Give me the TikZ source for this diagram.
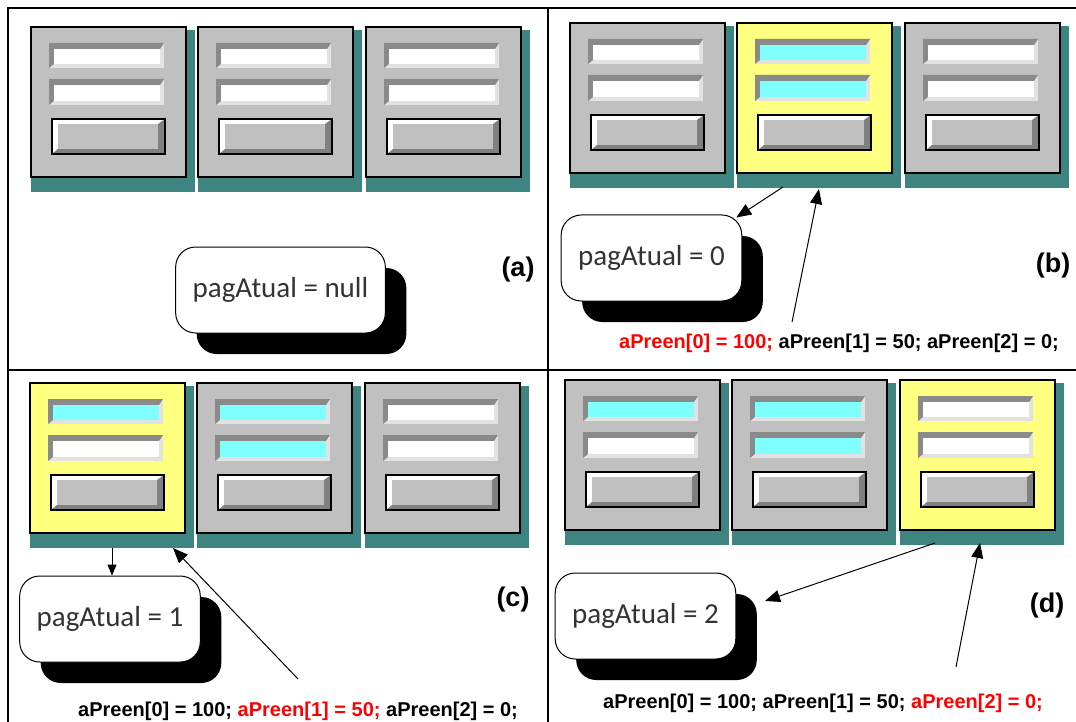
\documentclass[tikz,border=0pt]{standalone}
\usepackage{fontspec}
\usepackage{tikz}
\usetikzlibrary{arrows.meta,shadows}
\newfontfamily\pagfont{Carlito}
\newfontfamily\codefont{Liberation Sans}
\definecolor{winGray}{HTML}{C0C0C0}
\definecolor{winYellow}{HTML}{FFFF80}
\definecolor{winShadow}{RGB}{62,132,128}
\definecolor{fieldCyan}{HTML}{80FFFF}
\definecolor{fieldDark}{HTML}{8A8A8A}
\definecolor{fieldLight}{HTML}{E2E2E2}
\definecolor{btnDark}{HTML}{808080}

\begin{document}
\begin{tikzpicture}[x=1pt,y=-1pt,
  window/.style={draw,line width=1.5pt,minimum width=155pt,minimum height=150pt,inner sep=0pt},
  state box/.style={draw,line width=1pt,fill=white,rounded corners=20pt,minimum height=86pt,
    inner xsep=17pt,font=\pagfont\fontsize{29}{34}\selectfont,text=black!80,
    drop shadow={shadow xshift=21pt,shadow yshift=-21pt,fill=black,opacity=1}},
  code/.style={anchor=west,inner sep=0pt,font=\codefont\bfseries\fontsize{20}{23}\selectfont},
  panel label/.style={font=\codefont\bfseries\fontsize{27}{30}\selectfont},
  ptr/.style={-{Triangle[length=15pt,width=12pt]},line width=1pt},
  small ptr/.style={-{Triangle[length=11pt,width=9pt]},line width=1pt}]

  \useasboundingbox (0,0) rectangle (1076,722);

  % panel frame
  \draw[line width=1.5pt] (8,730) -- (8,8) -- (1080,8);
  \draw[line width=1.5pt] (548,8) -- (548,730);
  \draw[line width=1.5pt] (8,370) -- (1080,370);

  % windows: name / left / top / background / field 1 / field 2
  \foreach \n/\x/\y/\bg/\fa/\fb in {
    a1/31/27/winGray/white/white, a2/198/27/winGray/white/white, a3/366/27/winGray/white/white,
    b1/570/23/winGray/white/white, b2/737/23/winYellow/fieldCyan/fieldCyan, b3/905/23/winGray/white/white,
    c1/30/383/winYellow/fieldCyan/white, c2/197/383/winGray/fieldCyan/fieldCyan, c3/365/383/winGray/white/white,
    d1/565/380/winGray/fieldCyan/white, d2/732/380/winGray/fieldCyan/fieldCyan, d3/900/380/winYellow/white/white}
  {
    \fill[winShadow] (\x,\y+3) rectangle (\x+164,\y+165);
    \node[window,fill=\bg] (\n) at (\x+77.5,\y+75) {};
    % field 1
    \fill[fieldLight] (\x+18,\y+16) rectangle (\x+133,\y+41);
    \fill[fieldDark] (\x+18,\y+16) -- (\x+133,\y+16) -- (\x+129,\y+22) -- (\x+23,\y+22)
      -- (\x+23,\y+37) -- (\x+18,\y+41) -- cycle;
    \fill[\fa] (\x+23,\y+22) rectangle (\x+129,\y+37);
    % field 2
    \fill[fieldLight] (\x+18,\y+52) rectangle (\x+133,\y+78);
    \fill[fieldDark] (\x+18,\y+52) -- (\x+133,\y+52) -- (\x+129,\y+58) -- (\x+23,\y+58)
      -- (\x+23,\y+74) -- (\x+18,\y+78) -- cycle;
    \fill[\fb] (\x+23,\y+58) rectangle (\x+129,\y+74);
    % button
    \fill[white] (\x+21,\y+92) rectangle (\x+134,\y+127);
    \fill[btnDark] (\x+134,\y+92) -- (\x+134,\y+127) -- (\x+21,\y+127) -- (\x+27,\y+122)
      -- (\x+127,\y+122) -- (\x+127,\y+97) -- cycle;
    \fill[winGray] (\x+27,\y+97) rectangle (\x+127,\y+122);
    \draw[line width=1.5pt] (\x+21,\y+92) rectangle (\x+134,\y+127);
  }

  % state boxes
  \node[state box] (pa) at (280.5,290) {pagAtual = null};
  \node[state box] (pb) at (651.5,258) {pagAtual = 0};
  \node[state box] (pc) at (110,619) {pagAtual = 1};
  \node[state box] (pd) at (645.5,616) {pagAtual = 2};

  % panel labels
  \node[panel label] (laba) at (518,270) {(a)};
  \node[panel label] (labb) at (1053,266) {(b)};
  \node[panel label] (labc) at (513,600) {(c)};
  \node[panel label] (labd) at (1047,606) {(d)};

  % assignments
  \node[code] (codeb) at (619,343)
    {\textcolor{red}{aPreen[0] = 100;} aPreen[1] = 50; aPreen[2] = 0;};
  \node[code] (codec) at (78,711)
    {aPreen[0] = 100; \textcolor{red}{aPreen[1] = 50;} aPreen[2] = 0;};
  \node[code] (coded) at (603,703)
    {aPreen[0] = 100; aPreen[1] = 50; \textcolor{red}{aPreen[2] = 0;}};

  % pointers
  \coordinate (b2out) at (783,187);
  \coordinate (b2in) at (819,189);
  \coordinate (bsrc) at (792,322);
  \coordinate (c1out) at (112,548);
  \coordinate (c1in) at (173,548);
  \coordinate (csrc) at (298,679);
  \coordinate (d3out) at (935,543);
  \coordinate (pdtip) at (765,601);
  \coordinate (d3in) at (980,543);
  \coordinate (dsrc) at (956,667);

  \draw[ptr] (b2out) -- ([xshift=-6pt,yshift=-3pt]pb.north east);
  \draw[ptr] (bsrc) -- (b2in);
  \draw[small ptr] (c1out) -- (c1out |- pc.north);
  \draw[ptr] (csrc) -- (c1in);
  \draw[ptr] (d3out) -- (pdtip);
  \draw[ptr] (dsrc) -- (d3in);
\end{tikzpicture}
\end{document}
